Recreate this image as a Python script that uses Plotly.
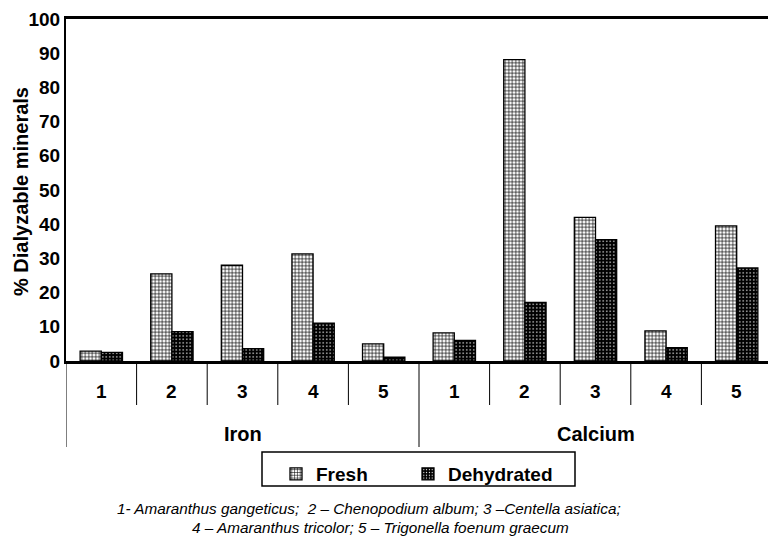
import plotly.graph_objects as go

species_labels = ["1", "2", "3", "4", "5", "1", "2", "3", "4", "5"]
minerals = ["Iron", "Calcium"]
fresh = [2.9, 25.5, 28.0, 31.3, 5.0, 8.2, 88.1, 42.0, 8.8, 39.5]
dehydrated = [2.5, 8.6, 3.6, 11.1, 1.1, 6.0, 17.1, 35.5, 3.9, 27.2]
y_ticks = [0, 10, 20, 30, 40, 50, 60, 70, 80, 90, 100]
y_title = "% Dialyzable minerals"
caption1 = "1- Amaranthus gangeticus;  2 \u2013 Chenopodium album; 3 \u2013Centella asiatica;"
caption2 = "4 \u2013 Amaranthus tricolor; 5 \u2013 Trigonella foenum graecum"

FONT = "Liberation Sans, Arial, Helvetica, sans-serif"
xs = list(range(len(species_labels)))

# page body has an 8px margin; figure is sized to fit the window
OFF = 8
W, H = 776 - OFF, 536 - OFF
L, R, T, B = 66 - OFF, 4, 19 - OFF, 175
pw, ph = W - L - R, H - T - B
PLOT_LEFT, PLOT_BOTTOM = 66, 361  # page pixels


def px_x(v):
    return (v - PLOT_LEFT) / pw


def px_y(v):
    return (PLOT_BOTTOM - v) / ph


fig = go.Figure()
fig.add_trace(go.Bar(
    x=xs, y=fresh, name="Fresh", legend="legend",
    marker=dict(color="white", line=dict(color="black", width=1.3),
                pattern=dict(shape="+", bgcolor="white", fgcolor="black",
                             size=3.5, solidity=0.35, fillmode="replace")),
))
fig.add_trace(go.Bar(
    x=xs, y=dehydrated, name="Dehydrated", legend="legend2",
    marker=dict(color="black", line=dict(color="black", width=1.3),
                pattern=dict(shape=".", bgcolor="black", fgcolor="white",
                             size=3.5, solidity=0.15, fillmode="replace")),
))

shapes = []
for k in range(len(xs) + 1):
    xpos = k - 0.5
    long_line = k in (0, 5, 10)
    shapes.append(dict(type="line", xref="x", yref="paper", x0=xpos, x1=xpos,
                       y0=0, y1=px_y(447) if long_line else px_y(405),
                       line=dict(color="black", width=1)))
# legend frame
shapes.append(dict(type="rect", xref="paper", yref="paper",
                   x0=px_x(262), x1=px_x(575), y0=px_y(452), y1=px_y(486),
                   line=dict(color="black", width=1.5), fillcolor="rgba(0,0,0,0)"))

annotations = []
for i, lab in enumerate(species_labels):
    annotations.append(dict(x=i, y=px_y(391), xref="x", yref="paper", text="<b>%s</b>" % lab,
                            showarrow=False, font=dict(size=19, color="black", family=FONT),
                            xanchor="center", yanchor="middle"))
for j, m in enumerate(minerals):
    annotations.append(dict(x=2 + 5 * j, y=px_y(434), xref="x", yref="paper", text="<b>%s</b>" % m,
                            showarrow=False, font=dict(size=20, color="black", family=FONT),
                            xanchor="center", yanchor="middle"))
annotations.append(dict(x=px_x(21), y=px_y(192), xref="paper", yref="paper",
                        text="<b>%s</b>" % y_title, showarrow=False, textangle=-90,
                        xanchor="center", yanchor="middle",
                        font=dict(size=20, color="black", family=FONT)))
annotations.append(dict(x=px_x(369), y=px_y(508), xref="paper", yref="paper",
                        text="<i>%s</i>" % caption1, showarrow=False,
                        xanchor="center", yanchor="middle",
                        font=dict(size=15.3, color="black", family=FONT)))
annotations.append(dict(x=px_x(380), y=px_y(527), xref="paper", yref="paper",
                        text="<i>%s</i>" % caption2, showarrow=False,
                        xanchor="center", yanchor="middle",
                        font=dict(size=15.3, color="black", family=FONT)))

leg_common = dict(orientation="h", xanchor="left", yanchor="top",
                  borderwidth=0, bgcolor="rgba(0,0,0,0)",
                  font=dict(size=19, family=FONT, color="black", weight="bold"),
                  itemwidth=30)

fig.update_layout(
    width=W, height=H,
    margin=dict(l=L, r=R, t=T, b=B, autoexpand=False),
    plot_bgcolor="white", paper_bgcolor="white",
    barmode="group", bargap=0.4, bargroupgap=0,
    font=dict(family=FONT, color="black"),
    showlegend=True,
    legend=dict(leg_common, x=px_x(276), y=px_y(455)),
    legend2=dict(leg_common, x=px_x(408), y=px_y(455)),
    xaxis=dict(range=[-0.5, 9.5], showticklabels=False, ticks="", showgrid=False,
               showline=True, linecolor="black", linewidth=2.5, mirror=True, zeroline=False,
               fixedrange=True, automargin=False),
    yaxis=dict(range=[0, 100], tickvals=y_ticks, showgrid=False, ticks="",
               showline=True, linecolor="black", linewidth=2, mirror=True, zeroline=False,
               automargin=False, ticklabelstandoff=0, ticklabeloverflow="allow",
               tickfont=dict(size=19, family=FONT, color="black", weight="bold")),
    shapes=shapes,
    annotations=annotations,
)

fig.write_html("out.html")
